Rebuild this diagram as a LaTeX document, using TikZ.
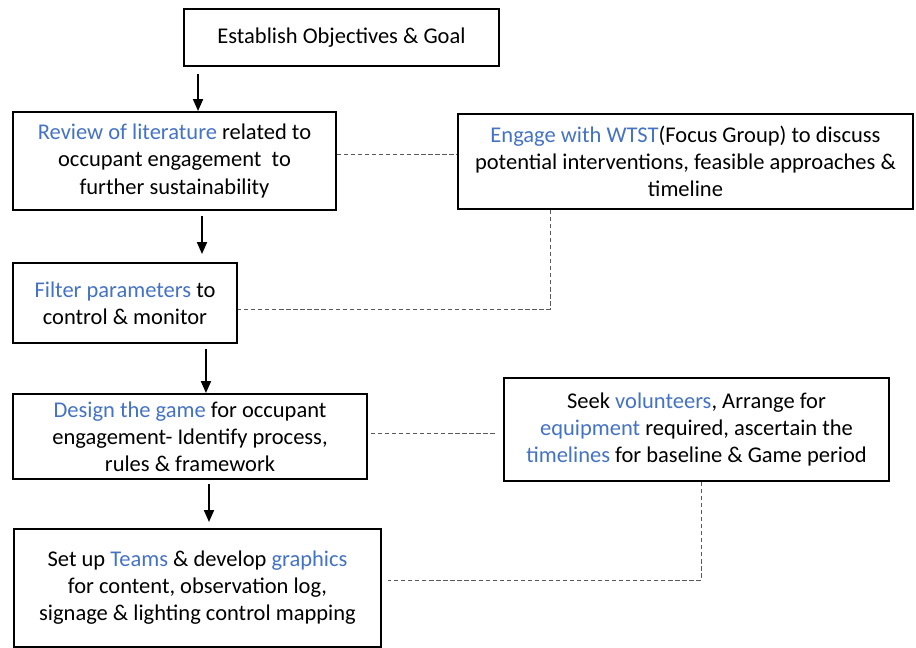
\documentclass[tikz,border=0pt]{standalone}
\usepackage{fontspec}
\setmainfont{Carlito}
\usetikzlibrary{arrows.meta}
\definecolor{kwblue}{HTML}{4472C4}
\definecolor{dshgray}{HTML}{595959}
\newcommand{\kw}[1]{\textcolor{kwblue}{#1}}
\tikzset{
  blk/.style={draw, line width=1.1pt, align=center, inner sep=0pt,
    font=\fontsize{12.8}{15.4}\selectfont},
  arr/.style={line width=1.1pt, -{Triangle[length=0.24cm,width=0.2cm]}},
  dsh/.style={draw=dshgray, line width=0.5pt, dash pattern=on 2.4pt off 1.6pt}
}
\begin{document}
\begin{tikzpicture}
\useasboundingbox (0,0) rectangle (18.32,-12.96);
\node[blk, minimum width=6.30cm, minimum height=1.14cm] at (6.83,-0.75) (goal) {Establish Objectives \& Goal};
\node[blk, minimum width=6.46cm, minimum height=1.96cm] at (3.49,-3.22) (review) {\kw{Review of literature} related to\\ occupant engagement\ \ to\\ further sustainability};
\node[blk, minimum width=9.10cm, minimum height=1.90cm] at (13.71,-3.23) (wtst) {\kw{Engage with WTST}(Focus Group) to discuss\\ potential interventions, feasible approaches \&\\ timeline};
\node[blk, minimum width=4.48cm, minimum height=1.60cm] at (2.50,-6.06) (filter) {\kw{Filter parameters} to\\ control \& monitor};
\node[blk, minimum width=7.08cm, minimum height=1.70cm] at (3.80,-8.73) (design) {\kw{Design the game} for occupant\\ engagement- Identify process,\\ rules \& framework};
\node[blk, minimum width=7.70cm, minimum height=2.06cm] at (13.93,-8.59) (seek) {Seek \kw{volunteers}, Arrange for\\ \kw{equipment} required, ascertain the\\ \kw{timelines} for baseline \& Game period};
\node[blk, minimum width=7.34cm, minimum height=2.36cm] at (3.95,-11.76) (teams) {Set up \kw{Teams} \& develop \kw{graphics}\\ for content, observation log,\\ signage \& lighting control mapping};
% main flow
\draw[arr] ([xshift=0.30cm,yshift=-0.14cm]goal.south west) -- ([xshift=0.30cm]goal.south west |- review.north);
\draw[arr, shorten <=0.1cm, shorten >=0.16cm] ([xshift=0.55cm]review.south) -- ([xshift=0.55cm]review.south |- filter.north);
\draw[arr, shorten <=0.1cm] ([xshift=-0.64cm]filter.south east) -- ([xshift=-0.64cm]filter.south east |- design.north);
\draw[arr, shorten <=0.08cm, shorten >=0.12cm] ([xshift=0.38cm]design.south) -- ([xshift=0.38cm]design.south |- teams.north);
% side links
\draw[dsh] ([yshift=0.14cm]review.east) -- ([yshift=0.14cm]review.east -| wtst.west);
\draw[dsh] ([xshift=-2.71cm]wtst.south) |- ([yshift=-0.12cm]filter.east);
\draw[dsh, shorten <=0.06cm, shorten >=0.14cm] ([yshift=0.07cm]design.east) -- ([yshift=0.07cm]design.east -| seek.west);
\draw[dsh, shorten >=0.12cm] ([xshift=0.09cm]seek.south) |- ([yshift=0.16cm]teams.east);
\end{tikzpicture}
\end{document}
